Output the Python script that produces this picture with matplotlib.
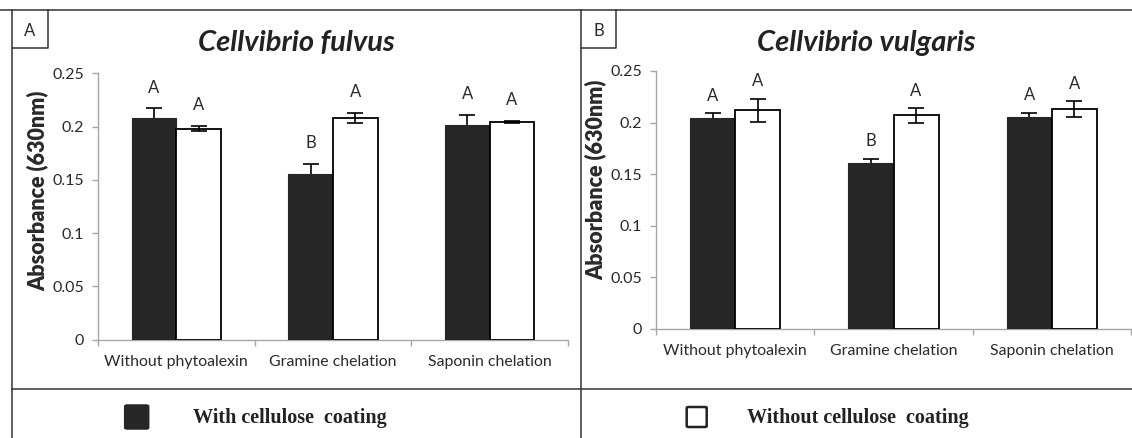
import matplotlib
matplotlib.use("Agg")
import matplotlib.pyplot as plt
from matplotlib.lines import Line2D
from matplotlib.patches import FancyBboxPatch
import numpy as np

# ---------------- data ----------------
categories = ["Without phytoalexin", "Gramine chelation", "Saponin chelation"]
series_names = ["With cellulose  coating", "Without cellulose  coating"]

fulvus_with = [0.208, 0.155, 0.201]
fulvus_with_err = [0.009, 0.010, 0.010]
fulvus_without = [0.198, 0.208, 0.204]
fulvus_without_err = [0.0025, 0.0047, 0.001]
fulvus_letters_with = ["A", "B", "A"]
fulvus_letters_without = ["A", "A", "A"]

vulgaris_with = [0.204, 0.161, 0.2055]
vulgaris_with_err = [0.0048, 0.004, 0.004]
vulgaris_without = [0.212, 0.207, 0.213]
vulgaris_without_err = [0.011, 0.007, 0.008]
vulgaris_letters_with = ["A", "B", "A"]
vulgaris_letters_without = ["A", "A", "A"]

y_ticks = [0, 0.05, 0.1, 0.15, 0.2, 0.25]
y_tick_labels = ["0", "0.05", "0.1", "0.15", "0.2", "0.25"]
panel_labels = ["A", "B"]
titles = ["Cellvibrio fulvus", "Cellvibrio vulgaris"]
y_label = "Absorbance (630nm)"

# ---------------- style ----------------
W, H = 1132, 438
SANS = ["Lato", "DejaVu Sans"]
SERIF = ["Liberation Serif", "DejaVu Serif"]
DARK = "#262626"
FRAME = "#333333"
SPINE = "#a6a6a6"
TXT = "#2a2a2a"

def fx(x):
    return x / W

def fy(y):
    return 1 - y / H

fig = plt.figure(figsize=(W / 100, H / 100), dpi=100)
fig.patch.set_facecolor("white")

def frame_line(x0, y0, x1, y1, lw=1.1):
    fig.add_artist(Line2D([fx(x0), fx(x1)], [fy(y0), fy(y1)],
                          transform=fig.transFigure, color=FRAME, lw=lw))

# outer frame and dividers
frame_line(0, 10, W, 10)
frame_line(11.7, 10, 11.7, H)
frame_line(580.8, 10, 580.8, H)
frame_line(11.7, 388.5, W, 388.5)

panels = [
    dict(left=98, right=568, top=73.3, bottom=339.5, pleft=11.7, box_right=48.3,
         with_v=fulvus_with, with_e=fulvus_with_err,
         wo_v=fulvus_without, wo_e=fulvus_without_err,
         let_w=fulvus_letters_with, let_wo=fulvus_letters_without, off=15.0),
    dict(left=656, right=1131, top=71, bottom=328.7, pleft=580.8, box_right=616,
         with_v=vulgaris_with, with_e=vulgaris_with_err,
         wo_v=vulgaris_without, wo_e=vulgaris_without_err,
         let_w=vulgaris_letters_with, let_wo=vulgaris_letters_without, off=12.5),
]

bw = 0.285
x = np.arange(len(categories)) + 0.5

for i, p in enumerate(panels):
    ax = fig.add_axes([fx(p["left"]), fy(p["bottom"]),
                       (p["right"] - p["left"]) / W, (p["bottom"] - p["top"]) / H])
    ax.set_facecolor("none")
    ekw_dark = dict(ecolor="black", elinewidth=1.2, capsize=5.5, capthick=1.2, zorder=2)
    ekw_light = dict(ecolor="black", elinewidth=1.2, capsize=5.5, capthick=1.2, zorder=4)
    ax.bar(x - bw / 2, p["with_v"], bw, yerr=p["with_e"], color=DARK,
           edgecolor=DARK, linewidth=0.8, error_kw=ekw_dark, zorder=3)
    ax.bar(x + bw / 2, p["wo_v"], bw, yerr=p["wo_e"], color="white",
           edgecolor="black", linewidth=1.3, error_kw=ekw_light, zorder=3)

    for xi, v, e, t in zip(x - bw / 2, p["with_v"], p["with_e"], p["let_w"]):
        ax.annotate(t, (xi, v + e), xytext=(0, p["off"]), textcoords="offset points",
                    ha="center", va="center", fontsize=12, family=SANS, color=TXT)
    for xi, v, e, t in zip(x + bw / 2, p["wo_v"], p["wo_e"], p["let_wo"]):
        ax.annotate(t, (xi, v + e), xytext=(0, p["off"]), textcoords="offset points",
                    ha="center", va="center", fontsize=12, family=SANS, color=TXT)

    ax.set_xlim(0, len(categories))
    ax.set_ylim(0, 0.25)
    for s in ["top", "right"]:
        ax.spines[s].set_visible(False)
    for s in ["left", "bottom"]:
        ax.spines[s].set_color(SPINE)
        ax.spines[s].set_linewidth(1.0)

    ax.set_yticks(y_ticks)
    ax.set_yticklabels(y_tick_labels, family=SANS, fontsize=11.5, color=TXT)
    ax.tick_params(axis="y", direction="out", length=4.2, width=1.0, color=SPINE, pad=6)

    ax.set_xticks(np.arange(len(categories) + 1))
    ax.set_xticklabels([])
    ax.set_xticks(x, minor=True)
    ax.set_xticklabels(categories, minor=True, family=SANS, fontsize=11.4, color=TXT)
    ax.tick_params(axis="x", which="major", direction="out", length=4, width=1.0, color=SPINE)
    ax.tick_params(axis="x", which="minor", length=0, pad=11)

    # y label
    fig.text(fx(p["left"] - 60.7), fy(p["bottom"] - 149), y_label, rotation=90,
             ha="center", va="center", fontsize=15.5, fontweight="heavy", family=SANS, color=TXT)

    # panel title
    pcenter = p["pleft"] + 285
    fig.text(fx(pcenter), fy(43), titles[i], ha="center", va="center", fontsize=21,
             fontweight="bold", fontstyle="italic", family=SANS, color="#222222")

    # panel letter box
    fig.add_artist(Line2D([fx(p["pleft"]), fx(p["box_right"]), fx(p["box_right"])],
                          [fy(47.7), fy(47.7), fy(10)], transform=fig.transFigure,
                          color=FRAME, lw=1.1))
    fig.text(fx((p["pleft"] + p["box_right"]) / 2), fy(30.5), panel_labels[i],
             ha="center", va="center", fontsize=12, family=SANS, color=TXT)

# legend row
leg = [(136.7, 193.3, DARK, DARK, 23), (696.7, 746.7, "white", "#222222", 20)]
for (cx, tx, fc, ec, sz), name in zip(leg, series_names):
    fig.add_artist(FancyBboxPatch((fx(cx - sz / 2), fy(417 + sz / 2)), sz / W, sz / H,
                                  boxstyle="round,pad=0,rounding_size=0.002",
                                  transform=fig.transFigure, facecolor=fc,
                                  edgecolor=ec, linewidth=1.8))
    fig.text(fx(tx), fy(418), name, ha="left", va="center", fontsize=14.5,
             fontweight="bold", family=SERIF, color="#222222")

fig.savefig("out.png", dpi=100, facecolor="white")
